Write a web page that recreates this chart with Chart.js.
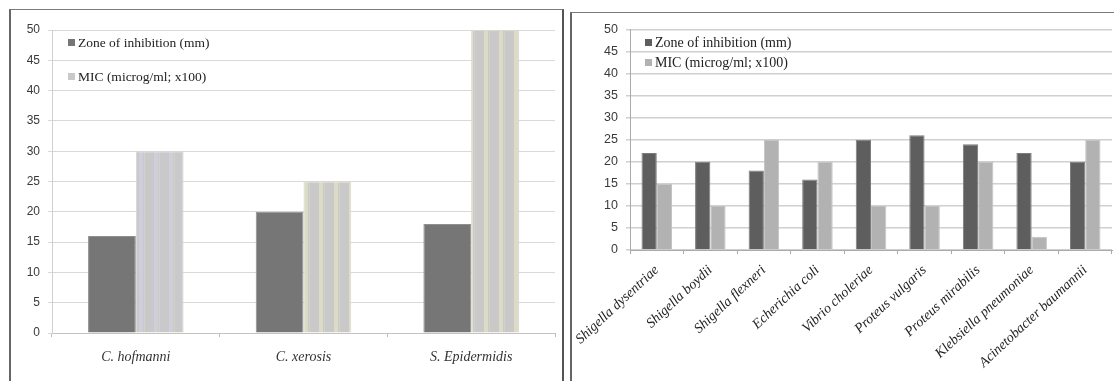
<!DOCTYPE html>
<html>
<head>
<meta charset="utf-8">
<script src="https://cdn.jsdelivr.net/npm/chart.js@4.4.1/dist/chart.umd.min.js"></script>
<style>
  body { margin: 0; background: #fff; width: 1114px; height: 381px; overflow: hidden; position: relative; }
  .frame { position: absolute; border: 1px solid #7a7a7a; box-sizing: border-box; }
  .wrap { position: absolute; }
</style>
</head>
<body>
<div class="frame" style="left:9px; top:9px; width:555px; height:390px; border-left:2px solid #666; border-right:2px solid #555;"></div>
<div class="wrap" style="left:10px; top:10px; width:552px; height:371px;"><canvas id="leftChart"></canvas></div>
<div class="frame" style="left:570px; top:12px; width:560px; height:390px; border-left:2px solid #666;"></div>
<div class="wrap" style="left:572px; top:14px; width:542px; height:367px;"><canvas id="rightChart"></canvas></div>
<script>
const seriesLabels = ["Zone of inhibition (mm)", "MIC (microg/ml; x100)"];

// left chart: corynebacteria / staph
const leftCategories = ["C. hofmanni", "C. xerosis", "S. Epidermidis"];
const leftZone = [16, 20, 18];
const leftMic = [30, 25, 50];

// right chart: gram negatives
const rightCategories = [
  "Shigella dysentriae", "Shigella boydii", "Shigella flexneri", "Echerichia coli",
  "Vibrio choleriae", "Proteus vulgaris", "Proteus mirabilis", "Klebsiella pneumoniae",
  "Acinetobacter baumannii"
];
const rightZone = [22, 20, 18, 16, 25, 26, 24, 22, 20];
const rightMic = [15, 10, 25, 20, 10, 10, 20, 3, 25];

const yTicks = [0, 5, 10, 15, 20, 25, 30, 35, 40, 45, 50];

// striped fill for the MIC bars of the left chart
function makeStripes(base, stripe) {
  const c = document.createElement("canvas");
  c.width = 15;
  c.height = 4;
  const g = c.getContext("2d");
  g.fillStyle = base;
  g.fillRect(0, 0, 15, 4);
  g.fillStyle = stripe;
  g.fillRect(9, 0, 4, 4);
  g.fillStyle = "#d2d2c8";
  g.fillRect(14, 0, 1, 4);
  return g.createPattern(c, "repeat");
}

// legend drawn inside the plot, stacked
const insideLegend = {
  id: "insideLegend",
  afterDraw(chart, args, opts) {
    const ctx = chart.ctx;
    ctx.save();
    ctx.font = opts.font;
    ctx.textBaseline = "middle";
    chart.data.datasets.forEach((ds, i) => {
      const y = opts.y + i * opts.gap;
      ctx.fillStyle = opts.boxColors[i];
      ctx.fillRect(opts.x, y - 4, 7, 7);
      ctx.fillStyle = "#222";
      ctx.fillText(ds.label, opts.x + 10, y);
    });
    ctx.restore();
  }
};

function yScale(width, opts) {
  return Object.assign({
    min: 0,
    max: 50,
    afterBuildTicks: (s) => { s.ticks = yTicks.map((v) => ({ value: v })); },
    afterFit: (s) => { s.width = width; },
    ticks: { color: "#3a3a3a", font: { family: "Liberation Sans", size: 12 }, padding: 8 },
    grid: { color: "#d9d9d9", tickLength: 4 },
    border: { color: "#d0d0d0" }
  }, opts || {});
}

const leftCtx = document.getElementById("leftChart").getContext("2d");
new Chart(leftCtx, {
  type: "bar",
  data: {
    labels: leftCategories,
    datasets: [
      {
        label: seriesLabels[0],
        data: leftZone,
        backgroundColor: "#767676",
        borderColor: "#909090",
        borderWidth: 1
      },
      {
        label: seriesLabels[1],
        data: leftMic,
        backgroundColor: [
          makeStripes("#c9c9cc", "#cfcfdc"),
          makeStripes("#c9c9c9", "#dcdcc6"),
          makeStripes("#c9c9c9", "#dcdcc6")
        ],
        borderColor: "#d8d8cc",
        borderWidth: 1
      }
    ]
  },
  options: {
    responsive: true,
    maintainAspectRatio: false,
    animation: false,
    layout: { padding: { top: 20, right: 7, left: 0, bottom: 0 } },
    datasets: { bar: { categoryPercentage: 0.57, barPercentage: 1.0 } },
    scales: {
      x: {
        afterFit: (s) => { s.height = 48; },
        ticks: { color: "#333", font: { family: "Liberation Serif", size: 14, style: "italic" }, padding: 12, maxRotation: 0 },
        grid: { drawOnChartArea: false, tickLength: 4, color: "#bbb" },
        border: { color: "#c4c4bc", dash: [3, 2] }
      },
      y: yScale(42)
    },
    plugins: {
      legend: { display: false },
      tooltip: { enabled: false },
      insideLegend: {
        x: 58, y: 33, gap: 34,
        font: "13.5px 'Liberation Serif'",
        boxColors: ["#767676", "#c9c9c9"]
      }
    }
  },
  plugins: [insideLegend]
});

const rightCtx = document.getElementById("rightChart").getContext("2d");
new Chart(rightCtx, {
  type: "bar",
  data: {
    labels: rightCategories,
    datasets: [
      {
        label: seriesLabels[0],
        data: rightZone,
        backgroundColor: "#5e5e5e",
        borderColor: "#7c7c7c",
        borderWidth: 1
      },
      {
        label: seriesLabels[1],
        data: rightMic,
        backgroundColor: "#b2b2b2",
        borderColor: "#c2c2c2",
        borderWidth: 1
      }
    ]
  },
  options: {
    responsive: true,
    maintainAspectRatio: false,
    animation: false,
    layout: { padding: { top: 14, right: 2, left: 0, bottom: 0 } },
    datasets: { bar: { categoryPercentage: 0.57, barPercentage: 1.0 } },
    scales: {
      x: {
        afterFit: (s) => {
          s.height = 131;
          s.paddingLeft = 0; // rotated labels may spill under the y axis
          s.paddingRight = 0;
        },
        ticks: {
          color: "#222",
          font: { family: "Liberation Serif", size: 14, style: "italic" },
          minRotation: 43,
          maxRotation: 43,
          padding: 8
        },
        grid: { drawOnChartArea: false, tickLength: 4, color: "#aaa" },
        border: { color: "#aaa" }
      },
      y: yScale(58, {
        ticks: { color: "#3a3a3a", font: { family: "Liberation Sans", size: 12.5 }, padding: 8 },
        grid: { color: "#d0d0d0", lineWidth: 1.5, tickLength: 4 },
        border: { color: "#aaa" }
      })
    },
    plugins: {
      legend: { display: false },
      tooltip: { enabled: false },
      insideLegend: {
        x: 73, y: 29, gap: 20,
        font: "14px 'Liberation Serif'",
        boxColors: ["#5e5e5e", "#b2b2b2"]
      }
    }
  },
  plugins: [insideLegend]
});
</script>
</body>
</html>
